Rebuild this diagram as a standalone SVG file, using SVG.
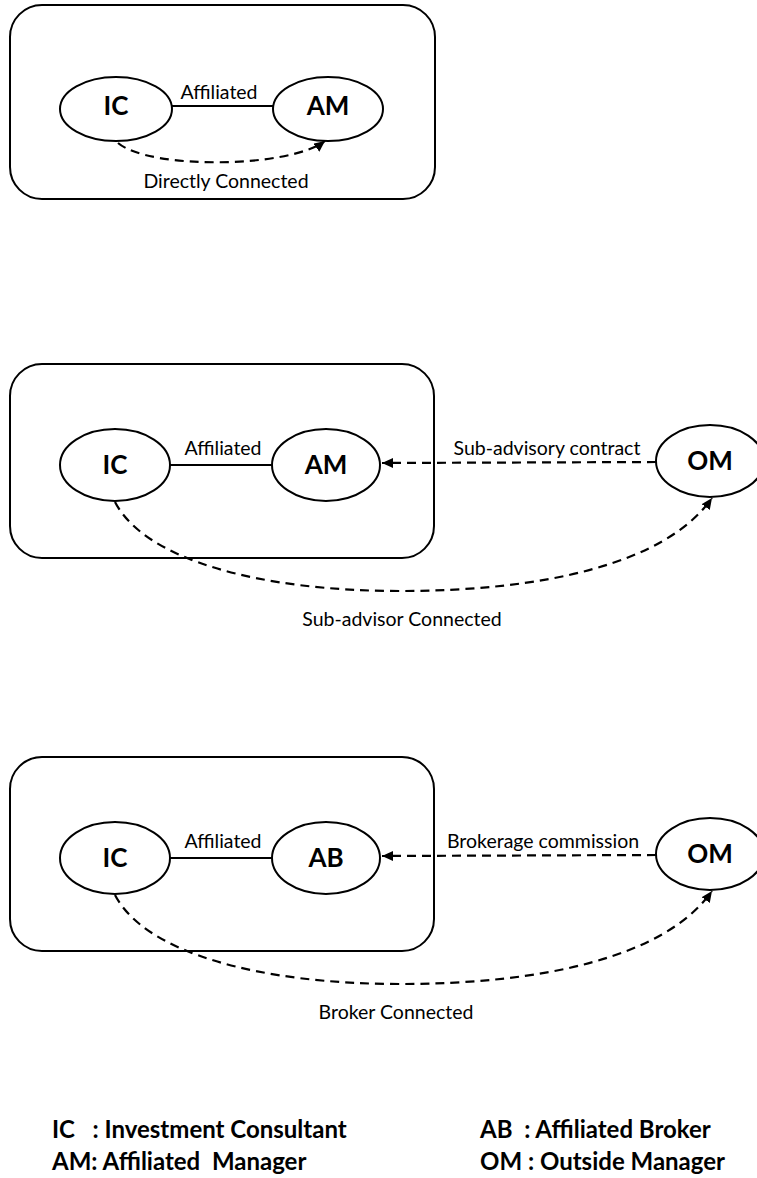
<svg xmlns="http://www.w3.org/2000/svg" width="757" height="1178" viewBox="0 0 757 1178">
<style>
.panel{fill:none;stroke:#000;stroke-width:2}
.node{fill:#fff;stroke:#000;stroke-width:2}
.nl{font-family:Lato,"Open Sans","Liberation Sans",sans-serif;font-weight:bold;font-size:26px;text-anchor:middle;fill:#000}
.el{font-family:Lato,"Open Sans","Liberation Sans",sans-serif;font-size:19.5px;text-anchor:middle;fill:#000}
.leg{font-family:Lato,"Open Sans","Liberation Sans",sans-serif;font-weight:bold;font-size:24px;fill:#000;white-space:pre}
.solid{fill:none;stroke:#000;stroke-width:2}
.dash{fill:none;stroke:#000;stroke-width:2.2;stroke-dasharray:9 6}
</style>
<defs>
<marker id="ah" markerUnits="userSpaceOnUse" markerWidth="14" markerHeight="12" refX="11" refY="5" orient="auto">
<path d="M0,0 L11,5 L0,10 Z" fill="#000"/>
</marker>
</defs>

<g id="panel1">
<rect class="panel" x="10" y="5" width="425" height="194" rx="32"/>
</g>
<g id="panel2">
<rect class="panel" x="10" y="364" width="424" height="194" rx="32"/>
</g>
<g id="panel3">
<rect class="panel" x="10" y="757" width="424" height="194" rx="32"/>
</g>

<g id="connectors">
<line class="solid" x1="172" y1="106" x2="273" y2="106"/>
<path class="dash" d="M118,143 C150,170 290,168 325,141" marker-end="url(#ah)"/>

<line class="solid" x1="170" y1="465" x2="272" y2="465"/>
<path class="dash" d="M656,462 L382,463" marker-end="url(#ah)"/>
<path class="dash" d="M115,502 C145,560 260,591 400,591 C540,591 665,565 712,498" marker-end="url(#ah)"/>

<line class="solid" x1="170" y1="858" x2="272" y2="858"/>
<path class="dash" d="M656,855 L382,856" marker-end="url(#ah)"/>
<path class="dash" d="M115,895 C145,953 260,984 400,984 C540,984 665,958 712,891" marker-end="url(#ah)"/>
</g>

<g id="edge-labels">
<text class="el" x="219" y="99">Affiliated</text>
<text class="el" x="226" y="188">Directly Connected</text>
<text class="el" x="223" y="455">Affiliated</text>
<text class="el" x="547" y="455">Sub-advisory contract</text>
<text class="el" x="402" y="626">Sub-advisor Connected</text>
<text class="el" x="223" y="848">Affiliated</text>
<text class="el" x="543" y="848">Brokerage commission</text>
<text class="el" x="396" y="1019">Broker Connected</text>
</g>

<g id="IC1"><ellipse class="node" cx="116" cy="109" rx="56" ry="32"/><text class="nl" x="116" y="115">IC</text></g>
<g id="AM1"><ellipse class="node" cx="328" cy="109" rx="55" ry="32"/><text class="nl" x="328" y="115">AM</text></g>

<g id="IC2"><ellipse class="node" cx="115" cy="465" rx="55" ry="36"/><text class="nl" x="115" y="474">IC</text></g>
<g id="AM2"><ellipse class="node" cx="326" cy="465" rx="54" ry="36"/><text class="nl" x="326" y="474">AM</text></g>
<g id="OM2"><ellipse class="node" cx="710" cy="461" rx="54" ry="36"/><text class="nl" x="710" y="470">OM</text></g>

<g id="IC3"><ellipse class="node" cx="115" cy="858" rx="55" ry="36"/><text class="nl" x="115" y="867">IC</text></g>
<g id="AB3"><ellipse class="node" cx="326" cy="858" rx="54" ry="36"/><text class="nl" x="326" y="867">AB</text></g>
<g id="OM3"><ellipse class="node" cx="710" cy="854" rx="54" ry="36"/><text class="nl" x="710" y="863">OM</text></g>

<g id="legend">
<text class="leg" x="52" y="1138">IC   : Investment Consultant</text>
<text class="leg" x="52" y="1170">AM: Affiliated  Manager</text>
<text class="leg" x="480" y="1138">AB  : Affiliated Broker</text>
<text class="leg" x="480" y="1170">OM : Outside Manager</text>
</g>
</svg>
